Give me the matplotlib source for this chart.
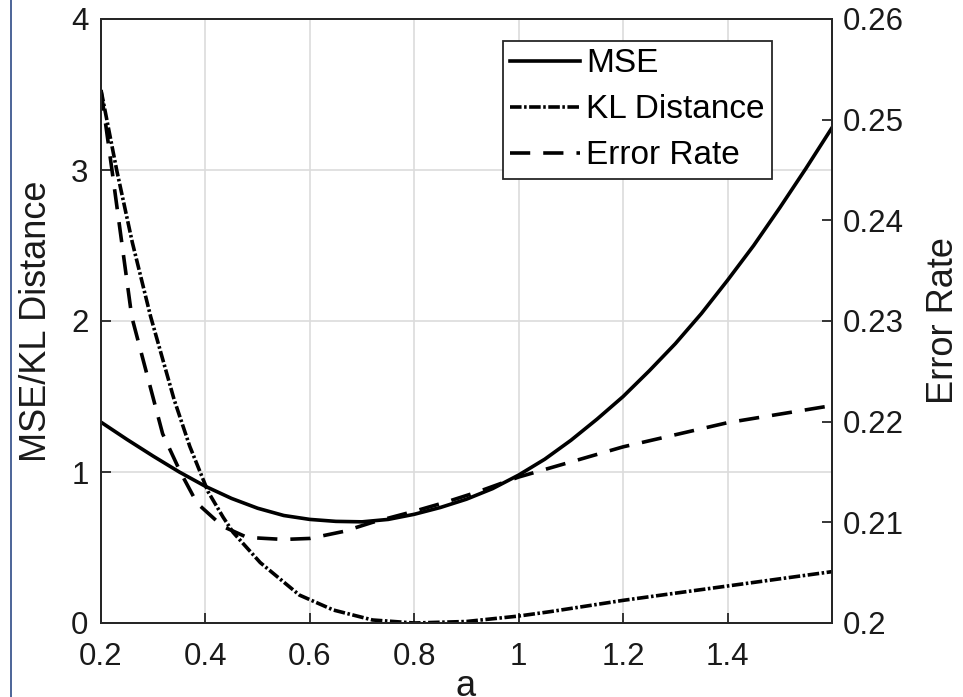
import matplotlib.pyplot as plt
from matplotlib.lines import Line2D

plt.rcParams['font.family'] = ['Liberation Sans', 'DejaVu Sans']

# values
mse_a = [0.2, 0.25, 0.3, 0.35, 0.4, 0.45, 0.5, 0.55, 0.6, 0.65, 0.7, 0.75, 0.8,
         0.85, 0.9, 0.95, 1.0, 1.05, 1.1, 1.15, 1.2, 1.25, 1.3, 1.35, 1.4,
         1.45, 1.5, 1.55, 1.6]
mse = [1.33, 1.215, 1.105, 1.00, 0.905, 0.825, 0.76, 0.712, 0.686, 0.673, 0.67,
       0.686, 0.72, 0.765, 0.82, 0.89, 0.98, 1.085, 1.21, 1.35, 1.50, 1.67,
       1.85, 2.05, 2.27, 2.50, 2.75, 3.01, 3.28]

kl_a = [0.2, 0.23, 0.26, 0.295, 0.34, 0.37, 0.405, 0.434, 0.453, 0.505, 0.58,
        0.645, 0.72, 0.8, 0.9, 1.0, 1.06, 1.2, 1.4, 1.6]
kl = [3.53, 3.0, 2.52, 2.03, 1.48, 1.17, 0.87, 0.70, 0.60, 0.40, 0.185,
      0.086, 0.02, 0.0, 0.01, 0.046, 0.075, 0.15, 0.245, 0.34]

err_a = [0.2, 0.221, 0.259, 0.318, 0.352, 0.384, 0.433, 0.48, 0.55, 0.6,
         0.665, 0.72, 0.8, 0.86, 0.92, 1.0, 1.2, 1.4, 1.6]
err = [0.2529, 0.2450, 0.2304, 0.2188, 0.2150, 0.2119, 0.2096, 0.2085,
       0.2083, 0.2084, 0.2091, 0.2100, 0.2111, 0.2120, 0.2130, 0.2145,
       0.2175, 0.2199, 0.2216]

x_ticks = [0.2, 0.4, 0.6, 0.8, 1.0, 1.2, 1.4]
x_labels = ['0.2', '0.4', '0.6', '0.8', '1', '1.2', '1.4']
left_ticks = [0, 1, 2, 3, 4]
right_ticks = [0.2, 0.21, 0.22, 0.23, 0.24, 0.25, 0.26]
right_labels = ['0.2', '0.21', '0.22', '0.23', '0.24', '0.25', '0.26']

ink = '#1a1a1a'
lw = 2.6

fig = plt.figure(figsize=(9.63, 6.97), dpi=100)
ax = fig.add_axes([101 / 963, 1 - 623 / 697, 731 / 963, 604 / 697])
ax2 = ax.twinx()

l1, = ax.plot(mse_a, mse, color='black', lw=lw, linestyle='-', label='MSE')
l2, = ax.plot(kl_a, kl, color='black', lw=lw, linestyle=(0, (3.2, 0.7, 0.7, 0.7)),
              label='KL Distance')
l3, = ax2.plot(err_a, err, color='black', lw=lw, linestyle=(0, (5.6, 3.6)),
               label='Error Rate')

ax.set_xlim(0.2, 1.6)
ax.set_ylim(0, 4)
ax2.set_ylim(0.2, 0.26)
ax.set_xticks(x_ticks)
ax.set_xticklabels(x_labels)
ax.set_yticks(left_ticks)
ax2.set_yticks(right_ticks)
ax2.set_yticklabels(right_labels)

ax.grid(True, color='#dcdcdc', lw=1.2)
ax.set_axisbelow(True)

for a in (ax, ax2):
    for s in a.spines.values():
        s.set_color('#262626')
        s.set_linewidth(1.4)
ax.tick_params(axis='both', direction='in', length=7, width=1.3, colors='#262626',
               labelcolor=ink, labelsize=22.5)
ax.tick_params(axis='x', pad=14)
ax.tick_params(axis='y', pad=9)
ax2.tick_params(axis='y', direction='in', length=7, width=1.3, colors='#262626',
                labelcolor=ink, labelsize=22.5, pad=8)

ax.set_xlabel('a', fontsize=26, color=ink)
ax.xaxis.set_label_coords(0.499, -0.076)
ax.set_ylabel('MSE/KL Distance', fontsize=26, color=ink)
ax.yaxis.set_label_coords(-0.064, 0.5)
ax2.set_ylabel('Error Rate', fontsize=26, color=ink)
ax2.yaxis.set_label_coords(1.128, 0.5)

leg = ax2.legend(handles=[l1, l2, l3], loc='upper right',
                 bbox_to_anchor=(0.918, 0.9636), borderaxespad=0,
                 fontsize=24, fancybox=False, framealpha=1,
                 handlelength=2.1, handletextpad=0.18, labelspacing=0.45,
                 borderpad=0.22)
leg.get_frame().set_edgecolor('#262626')
leg.get_frame().set_linewidth(1.3)

# thin navy border on the left edge of the picture
fig.add_artist(Line2D([11 / 963, 11 / 963], [0, 1], color='#2e4a86', lw=1.2,
                      transform=fig.transFigure))

fig.savefig('out.png', dpi=100)
